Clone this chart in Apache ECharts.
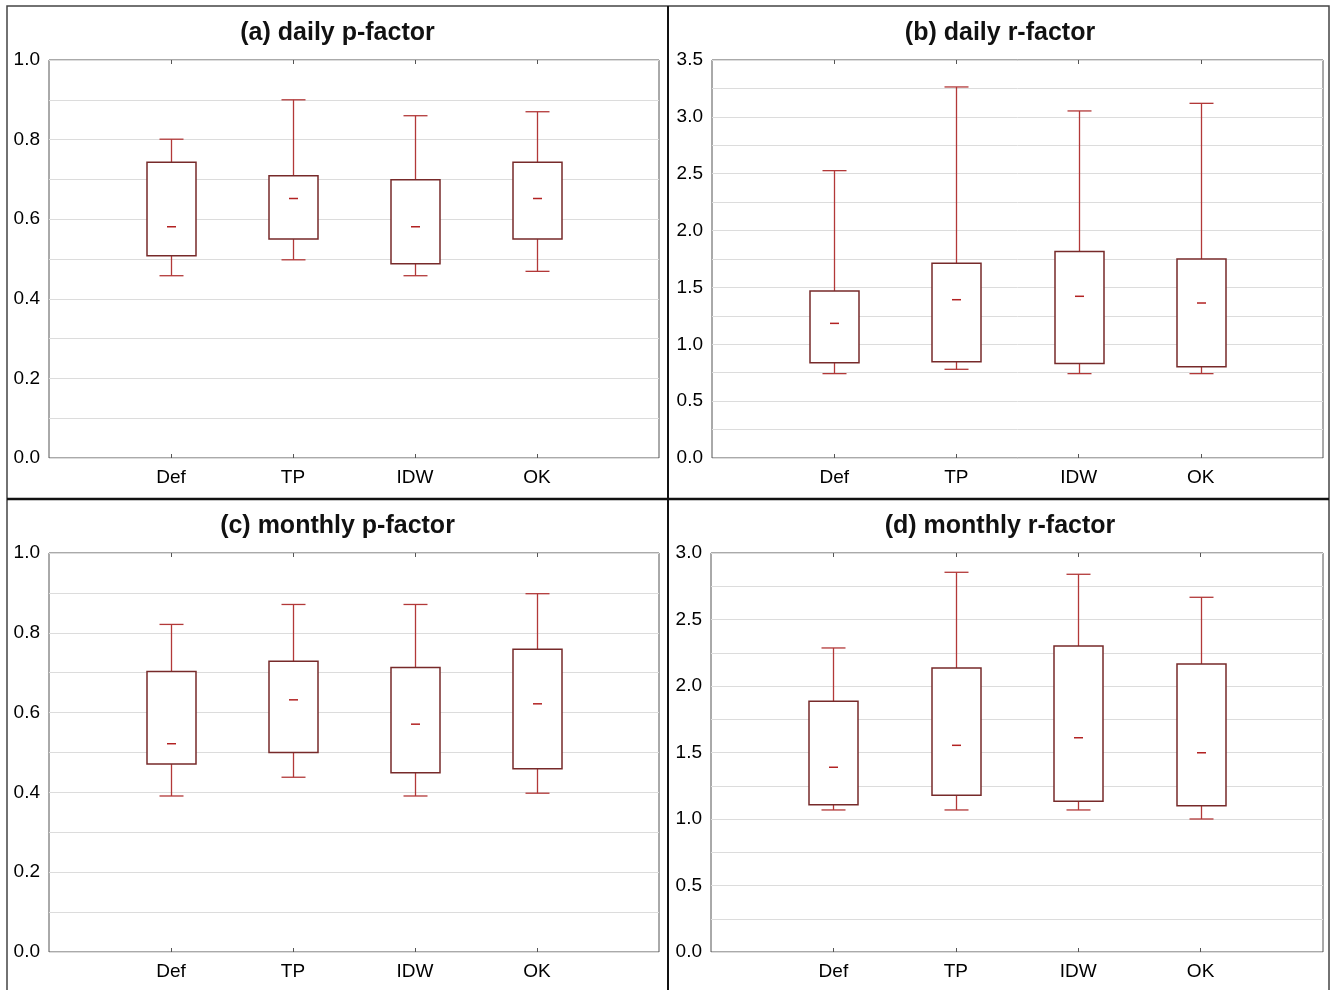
<!DOCTYPE html>
<html>
<head>
<meta charset="utf-8">
<script src="https://cdn.jsdelivr.net/npm/echarts@6/dist/echarts.min.js"></script>
<style>
html,body{margin:0;padding:0;background:#fff;}
#chart{width:1332px;height:990px;}
</style>
</head>
<body>
<div id="chart"></div>
<script>
// Category labels (empty entries pad the axis on both ends)
const categories = ['', 'Def', 'TP', 'IDW', 'OK', ''];
const methods = ['Def', 'TP', 'IDW', 'OK'];

// Each row: [lower whisker, lower box edge, median, upper box edge, upper whisker]
const dailyP = [
  [0.458, 0.508, 0.581, 0.743, 0.801],
  [0.498, 0.550, 0.652, 0.709, 0.900],
  [0.458, 0.488, 0.581, 0.699, 0.860],
  [0.469, 0.550, 0.652, 0.743, 0.870]
];
const dailyR = [
  [0.742, 0.838, 1.184, 1.469, 2.527],
  [0.780, 0.847, 1.392, 1.712, 3.263],
  [0.742, 0.830, 1.422, 1.815, 3.052],
  [0.742, 0.803, 1.363, 1.750, 3.119]
];
const monthlyP = [
  [0.391, 0.471, 0.522, 0.703, 0.821],
  [0.438, 0.500, 0.632, 0.729, 0.871],
  [0.391, 0.449, 0.571, 0.713, 0.871],
  [0.398, 0.459, 0.622, 0.759, 0.898]
];
const monthlyR = [
  [1.068, 1.108, 1.389, 1.885, 2.286],
  [1.068, 1.178, 1.554, 2.135, 2.855],
  [1.068, 1.133, 1.611, 2.301, 2.840],
  [1.000, 1.100, 1.498, 2.165, 2.667]
];

const titles = ['(a) daily p-factor', '(b) daily r-factor', '(c) monthly p-factor', '(d) monthly r-factor'];
const yMax = [1.0, 3.5, 1.0, 3.0];
const yStep = [0.1, 0.25, 0.1, 0.25];
const panels = [dailyP, dailyR, monthlyP, monthlyR];

const gridPos = [
  {left: 49, top: 60, width: 610, height: 398},
  {left: 712, top: 60, width: 611, height: 398},
  {left: 49, top: 553, width: 610, height: 399},
  {left: 711, top: 553, width: 612, height: 399}
];
const titlePos = [
  {x: 337.5, y: 33}, {x: 1000, y: 33}, {x: 337.5, y: 526}, {x: 1000, y: 526}
];

const FONT = '"Liberation Sans", Arial, sans-serif';
const BOX_COLOR = '#772a2a';
const WHISKER_COLOR = '#b23838';
const MEDIAN_COLOR = '#b22222';

const chart = echarts.init(document.getElementById('chart'), null, {renderer: 'canvas'});

const grids = [], xAxes = [], yAxes = [], series = [], titleGraphics = [];

panels.forEach((data, i) => {
  grids.push(Object.assign({show: true, borderColor: '#555', borderWidth: 1, backgroundColor: '#fff'}, gridPos[i]));
  const tickInterval = (idx, val) => val !== '';
  xAxes.push({
    type: 'category', gridIndex: i, data: categories, boundaryGap: false, position: 'bottom',
    axisLine: {show: false},
    axisTick: {show: true, inside: true, length: 4, interval: tickInterval, lineStyle: {color: '#555'}},
    axisLabel: {color: '#000', fontSize: 19, fontFamily: FONT, margin: 10, interval: 0},
    splitLine: {show: false}
  });
  xAxes.push({
    type: 'category', gridIndex: i, data: categories, boundaryGap: false, position: 'top',
    axisLine: {show: false},
    axisTick: {show: true, inside: true, length: 4, interval: tickInterval, lineStyle: {color: '#555'}},
    axisLabel: {show: false},
    splitLine: {show: false}
  });
  const step = yStep[i];
  yAxes.push({
    type: 'value', gridIndex: i, min: 0, max: yMax[i], interval: step,
    axisLine: {show: false}, axisTick: {show: false},
    axisLabel: {
      color: '#000', fontSize: 19, fontFamily: FONT, margin: 9,
      formatter: v => (Math.round(v / step) % 2 === 0 ? v.toFixed(1) : '')
    },
    splitLine: {show: true, lineStyle: {color: '#dcdcdc', width: 1}}
  });
  series.push({
    type: 'custom', xAxisIndex: i * 2, yAxisIndex: i,
    data: data.map((d, k) => [categories.indexOf(methods[k])].concat(d)),
    encode: {x: 0, y: [1, 2, 3, 4, 5]},
    renderItem: (params, api) => {
      const x = api.value(0);
      const lo = api.coord([x, api.value(1)]);
      const q1 = api.coord([x, api.value(2)]);
      const md = api.coord([x, api.value(3)]);
      const q3 = api.coord([x, api.value(4)]);
      const hi = api.coord([x, api.value(5)]);
      const cx = Math.round(lo[0]) + 0.5;
      const bw = 49, cw = 24, mw = 9;
      const wl = {stroke: WHISKER_COLOR, lineWidth: 1.3};
      return {
        type: 'group',
        children: [
          {type: 'line', shape: {x1: cx, y1: q3[1], x2: cx, y2: hi[1]}, style: wl},
          {type: 'line', shape: {x1: cx, y1: q1[1], x2: cx, y2: lo[1]}, style: wl},
          {type: 'line', shape: {x1: cx - cw / 2, y1: hi[1], x2: cx + cw / 2, y2: hi[1]}, style: wl},
          {type: 'line', shape: {x1: cx - cw / 2, y1: lo[1], x2: cx + cw / 2, y2: lo[1]}, style: wl},
          {type: 'rect', shape: {x: cx - bw / 2, y: q3[1], width: bw, height: q1[1] - q3[1]},
            style: {fill: '#fff', stroke: BOX_COLOR, lineWidth: 1.5}},
          {type: 'line', shape: {x1: cx - mw / 2, y1: md[1], x2: cx + mw / 2, y2: md[1]},
            style: {stroke: MEDIAN_COLOR, lineWidth: 1.5}}
        ]
      };
    }
  });
  titleGraphics.push({
    type: 'text', x: titlePos[i].x, y: titlePos[i].y, silent: true, z: 100,
    style: {text: titles[i], align: 'center', verticalAlign: 'middle',
      font: 'bold 25px ' + FONT, fill: '#111'}
  });
});

chart.setOption({
  animation: false,
  backgroundColor: '#fff',
  grid: grids,
  xAxis: xAxes,
  yAxis: yAxes,
  series: series,
  graphic: titleGraphics.concat([
    {type: 'rect', shape: {x: 7, y: 6, width: 1322, height: 990}, style: {fill: null, stroke: '#444', lineWidth: 1.5}, silent: true, z: 100},
    {type: 'line', shape: {x1: 668, y1: 6, x2: 668, y2: 990}, style: {stroke: '#111', lineWidth: 2}, silent: true, z: 100},
    {type: 'line', shape: {x1: 7, y1: 499, x2: 1329, y2: 499}, style: {stroke: '#111', lineWidth: 2.5}, silent: true, z: 100}
  ])
});
</script>
</body>
</html>
